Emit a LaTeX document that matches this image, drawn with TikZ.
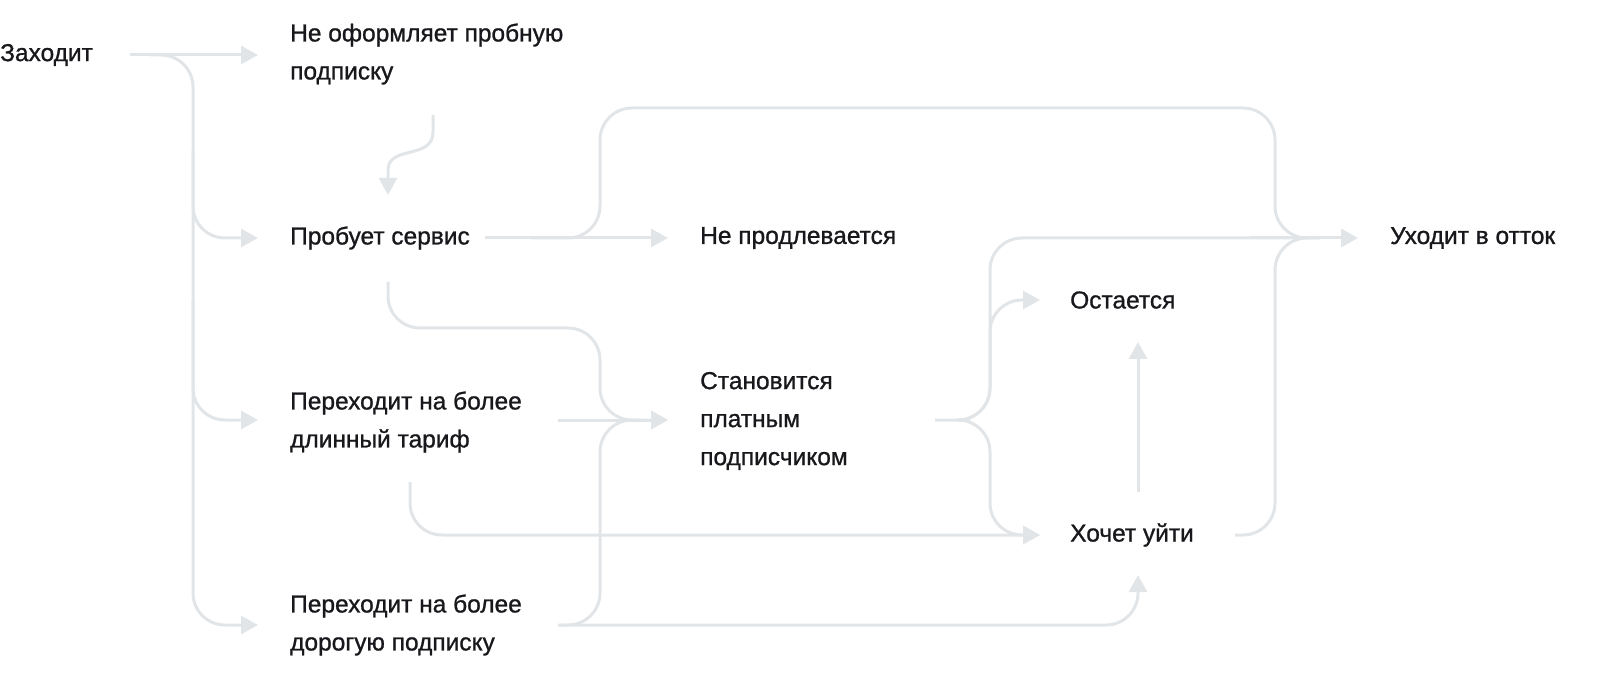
\documentclass[tikz,border=0pt]{standalone}
\usepackage{fontspec}
\setmainfont{Liberation Sans}
\newfontfamily\labfont{Liberation Sans}[FakeBold=1.0,Scale=1.0]
\usetikzlibrary{arrows.meta}
\definecolor{ln}{RGB}{226,229,232}
\definecolor{tx}{RGB}{24,24,28}
\begin{document}
\begin{tikzpicture}[x=1pt,y=-1pt,
  lab/.style={anchor=west,inner sep=0pt,align=left,text=tx,font=\labfont\fontsize{24.5}{38}\selectfont},
  con/.style={draw=ln,line width=3pt,rounded corners=32pt},
  arr/.style={-{Triangle[width=18pt,length=17pt]}}]
\useasboundingbox (0,0) rectangle (1598,692);
\node[lab] (z) at (0,55) {Заходит};
\node[lab] (n) at (290,54) {Не оформляет пробную\\подписку};
\node[lab] (p) at (290,238) {Пробует сервис};
\node[lab] (l) at (290,422) {Переходит на более\\длинный тариф};
\node[lab] (d) at (290,625) {Переходит на более\\дорогую подписку};
\node[lab] (np) at (700,238) {Не продлевается};
\node[lab] (s) at (700,421) {Становится\\платным\\подписчиком};
\node[lab] (o) at (1070,300) {Остается};
\node[lab] (h) at (1070,535) {Хочет уйти};
\node[lab] (u) at (1390,238) {Уходит в отток};
% from Заходит
\draw[con,arr] (130,55) -- (258,55);
\draw[con,arr] (150,55) -- (193,55) -- (193,238) -- (258,238);
\draw[con,arr] (193,150) -- (193,420) -- (258,420);
\draw[con,arr] (193,300) -- (193,625) -- (258,625);
% Не оформляет -> Пробует
\draw[con,arr,rounded corners=0pt] (433,115) -- (433,132) .. controls (433,160) and (388,145) .. (388,170) -- (388,195);
% Пробует
\draw[con,arr] (485,238) -- (668,238);
\draw[con] (530,238) -- (600,238) -- (600,108) -- (1275,108) -- (1275,238) -- (1320,238);
\draw[con,arr] (388,282) -- (388,328) -- (600,328) -- (600,420) -- (668,420);
% длинный
\draw[con,arr] (558,420) -- (668,420);
\draw[con,arr] (410,482) -- (410,535) -- (1040,535);
% дорогую
\draw[con,arr] (558,625) -- (1138,625) -- (1138,575);
\draw[con] (560,625) -- (600,625) -- (600,420) -- (640,420);
% Становится
\draw[con,arr] (935,420) -- (990,420) -- (990,300) -- (1040,300);
\draw[con] (970,420) -- (990,420) -- (990,238) -- (1300,238);
\draw[con,arr] (970,420) -- (990,420) -- (990,535) -- (1040,535);
% Хочет уйти
\draw[con,arr] (1138,492) -- (1138,342);
\draw[con] (1235,535) -- (1275,535) -- (1275,238) -- (1320,238);
\draw[con,arr] (1250,238) -- (1358,238);
\end{tikzpicture}
\end{document}
